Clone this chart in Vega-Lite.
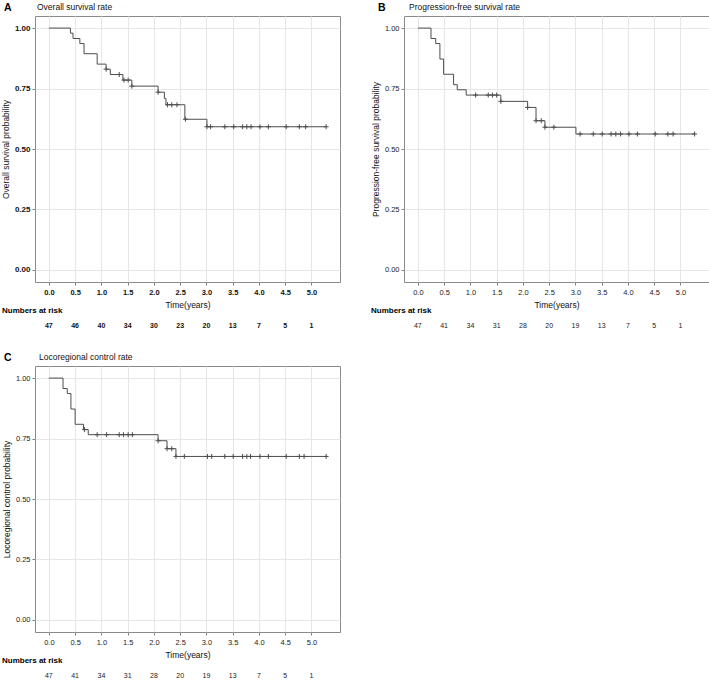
{
  "$schema": "https://vega.github.io/schema/vega-lite/v6.json",
  "padding": {"left": 0, "top": 2, "right": 0, "bottom": 0},
  "background": "white",
  "config": {
    "font": "Liberation Sans",
    "view": {"stroke": "#8a8a8a", "strokeWidth": 1},
    "axis": {
      "domain": false,
      "grid": true,
      "gridColor": "#e6e6e6",
      "gridWidth": 1,
      "tickColor": "#7f7f7f",
      "tickSize": 3,
      "labelFont": "Liberation Sans",
      "labelColor": "#222222",
      "labelFontSize": 7.5,
      "titleFont": "Liberation Sans",
      "titleFontSize": 8.5,
      "titleFontWeight": "normal",
      "titleColor": "#111111"
    },
    "axisX": {"labelPadding": 3, "titlePadding": 5},
    "axisY": {"labelPadding": 2, "titlePadding": 4},
    "title": {"font": "Liberation Sans", "color": "#111111"}
  },
  "datasets": {
    "curves": [
      {"panel": "A", "t": 0, "s": 1},
      {"panel": "A", "t": 0.41, "s": 0.979},
      {"panel": "A", "t": 0.46, "s": 0.957},
      {"panel": "A", "t": 0.59, "s": 0.936},
      {"panel": "A", "t": 0.67, "s": 0.894},
      {"panel": "A", "t": 0.92, "s": 0.851},
      {"panel": "A", "t": 1.09, "s": 0.830},
      {"panel": "A", "t": 1.17, "s": 0.808},
      {"panel": "A", "t": 1.41, "s": 0.785},
      {"panel": "A", "t": 1.58, "s": 0.760},
      {"panel": "A", "t": 2.08, "s": 0.735},
      {"panel": "A", "t": 2.20, "s": 0.709},
      {"panel": "A", "t": 2.23, "s": 0.683},
      {"panel": "A", "t": 2.59, "s": 0.623},
      {"panel": "A", "t": 3.01, "s": 0.592},
      {"panel": "A", "t": 5.28, "s": 0.592},
      {"panel": "B", "t": 0, "s": 1},
      {"panel": "B", "t": 0.25, "s": 0.957},
      {"panel": "B", "t": 0.34, "s": 0.936},
      {"panel": "B", "t": 0.42, "s": 0.872},
      {"panel": "B", "t": 0.49, "s": 0.809},
      {"panel": "B", "t": 0.68, "s": 0.766},
      {"panel": "B", "t": 0.75, "s": 0.745},
      {"panel": "B", "t": 0.92, "s": 0.723},
      {"panel": "B", "t": 1.58, "s": 0.697},
      {"panel": "B", "t": 2.09, "s": 0.672},
      {"panel": "B", "t": 2.25, "s": 0.617},
      {"panel": "B", "t": 2.42, "s": 0.590},
      {"panel": "B", "t": 3.01, "s": 0.562},
      {"panel": "B", "t": 5.27, "s": 0.562},
      {"panel": "C", "t": 0, "s": 1},
      {"panel": "C", "t": 0.27, "s": 0.957},
      {"panel": "C", "t": 0.35, "s": 0.936},
      {"panel": "C", "t": 0.42, "s": 0.872},
      {"panel": "C", "t": 0.50, "s": 0.809},
      {"panel": "C", "t": 0.66, "s": 0.787},
      {"panel": "C", "t": 0.75, "s": 0.766},
      {"panel": "C", "t": 2.08, "s": 0.741},
      {"panel": "C", "t": 2.25, "s": 0.708},
      {"panel": "C", "t": 2.42, "s": 0.676},
      {"panel": "C", "t": 5.28, "s": 0.676}
    ],
    "censors": [
      {"panel": "A", "t": 1.09, "s": 0.830},
      {"panel": "A", "t": 1.34, "s": 0.808},
      {"panel": "A", "t": 1.43, "s": 0.785},
      {"panel": "A", "t": 1.51, "s": 0.785},
      {"panel": "A", "t": 1.58, "s": 0.760},
      {"panel": "A", "t": 2.08, "s": 0.735},
      {"panel": "A", "t": 2.26, "s": 0.683},
      {"panel": "A", "t": 2.34, "s": 0.683},
      {"panel": "A", "t": 2.44, "s": 0.683},
      {"panel": "A", "t": 2.60, "s": 0.623},
      {"panel": "A", "t": 3.01, "s": 0.592},
      {"panel": "A", "t": 3.08, "s": 0.592},
      {"panel": "A", "t": 3.35, "s": 0.592},
      {"panel": "A", "t": 3.52, "s": 0.592},
      {"panel": "A", "t": 3.69, "s": 0.592},
      {"panel": "A", "t": 3.77, "s": 0.592},
      {"panel": "A", "t": 3.85, "s": 0.592},
      {"panel": "A", "t": 4.02, "s": 0.592},
      {"panel": "A", "t": 4.18, "s": 0.592},
      {"panel": "A", "t": 4.52, "s": 0.592},
      {"panel": "A", "t": 4.77, "s": 0.592},
      {"panel": "A", "t": 4.89, "s": 0.592},
      {"panel": "A", "t": 5.28, "s": 0.592},
      {"panel": "B", "t": 1.10, "s": 0.723},
      {"panel": "B", "t": 1.34, "s": 0.723},
      {"panel": "B", "t": 1.42, "s": 0.723},
      {"panel": "B", "t": 1.50, "s": 0.723},
      {"panel": "B", "t": 1.58, "s": 0.697},
      {"panel": "B", "t": 2.09, "s": 0.672},
      {"panel": "B", "t": 2.25, "s": 0.617},
      {"panel": "B", "t": 2.35, "s": 0.617},
      {"panel": "B", "t": 2.42, "s": 0.590},
      {"panel": "B", "t": 2.59, "s": 0.590},
      {"panel": "B", "t": 3.09, "s": 0.562},
      {"panel": "B", "t": 3.34, "s": 0.562},
      {"panel": "B", "t": 3.51, "s": 0.562},
      {"panel": "B", "t": 3.68, "s": 0.562},
      {"panel": "B", "t": 3.77, "s": 0.562},
      {"panel": "B", "t": 3.86, "s": 0.562},
      {"panel": "B", "t": 4.02, "s": 0.562},
      {"panel": "B", "t": 4.18, "s": 0.562},
      {"panel": "B", "t": 4.52, "s": 0.562},
      {"panel": "B", "t": 4.76, "s": 0.562},
      {"panel": "B", "t": 4.86, "s": 0.562},
      {"panel": "B", "t": 5.27, "s": 0.562},
      {"panel": "C", "t": 0.68, "s": 0.787},
      {"panel": "C", "t": 0.92, "s": 0.766},
      {"panel": "C", "t": 1.10, "s": 0.766},
      {"panel": "C", "t": 1.34, "s": 0.766},
      {"panel": "C", "t": 1.42, "s": 0.766},
      {"panel": "C", "t": 1.51, "s": 0.766},
      {"panel": "C", "t": 1.59, "s": 0.766},
      {"panel": "C", "t": 2.08, "s": 0.741},
      {"panel": "C", "t": 2.25, "s": 0.708},
      {"panel": "C", "t": 2.34, "s": 0.708},
      {"panel": "C", "t": 2.42, "s": 0.676},
      {"panel": "C", "t": 2.58, "s": 0.676},
      {"panel": "C", "t": 3.02, "s": 0.676},
      {"panel": "C", "t": 3.10, "s": 0.676},
      {"panel": "C", "t": 3.35, "s": 0.676},
      {"panel": "C", "t": 3.51, "s": 0.676},
      {"panel": "C", "t": 3.69, "s": 0.676},
      {"panel": "C", "t": 3.77, "s": 0.676},
      {"panel": "C", "t": 3.84, "s": 0.676},
      {"panel": "C", "t": 4.02, "s": 0.676},
      {"panel": "C", "t": 4.18, "s": 0.676},
      {"panel": "C", "t": 4.52, "s": 0.676},
      {"panel": "C", "t": 4.77, "s": 0.676},
      {"panel": "C", "t": 4.86, "s": 0.676},
      {"panel": "C", "t": 5.28, "s": 0.676}
    ],
    "risk": [
      {"panel": "A", "t": 0, "n": 47}, {"panel": "A", "t": 0.5, "n": 46}, {"panel": "A", "t": 1, "n": 40},
      {"panel": "A", "t": 1.5, "n": 34}, {"panel": "A", "t": 2, "n": 30}, {"panel": "A", "t": 2.5, "n": 23},
      {"panel": "A", "t": 3, "n": 20}, {"panel": "A", "t": 3.5, "n": 13}, {"panel": "A", "t": 4, "n": 7},
      {"panel": "A", "t": 4.5, "n": 5}, {"panel": "A", "t": 5, "n": 1},
      {"panel": "B", "t": 0, "n": 47}, {"panel": "B", "t": 0.5, "n": 41}, {"panel": "B", "t": 1, "n": 34},
      {"panel": "B", "t": 1.5, "n": 31}, {"panel": "B", "t": 2, "n": 28}, {"panel": "B", "t": 2.5, "n": 20},
      {"panel": "B", "t": 3, "n": 19}, {"panel": "B", "t": 3.5, "n": 13}, {"panel": "B", "t": 4, "n": 7},
      {"panel": "B", "t": 4.5, "n": 5}, {"panel": "B", "t": 5, "n": 1},
      {"panel": "C", "t": 0, "n": 47}, {"panel": "C", "t": 0.5, "n": 41}, {"panel": "C", "t": 1, "n": 34},
      {"panel": "C", "t": 1.5, "n": 31}, {"panel": "C", "t": 2, "n": 28}, {"panel": "C", "t": 2.5, "n": 20},
      {"panel": "C", "t": 3, "n": 19}, {"panel": "C", "t": 3.5, "n": 13}, {"panel": "C", "t": 4, "n": 7},
      {"panel": "C", "t": 4.5, "n": 5}, {"panel": "C", "t": 5, "n": 1}
    ]
  },
  "columns": 2,
  "spacing": {"row": 17, "column": 29},
  "concat": [
    {
      "title": {"text": "A", "anchor": "start", "frame": "bounds", "fontSize": 10.5, "fontWeight": "bold", "offset": -11, "dx": 3, "color": "#000000"},
      "spacing": -3,
      "vconcat": [
        {
          "width": 305, "height": 266,
          "title": {"text": "Overall survival rate", "anchor": "start", "frame": "group", "fontSize": 8.5, "fontWeight": "normal", "offset": 5, "dx": 2},
          "encoding": {
            "x": {"field": "t", "type": "quantitative",
              "scale": {"domain": [-0.264, 5.544], "nice": false, "zero": false},
              "axis": {"title": "Time(years)", "values": [0, 0.5, 1, 1.5, 2, 2.5, 3, 3.5, 4, 4.5, 5], "format": ".1f", "labelFontWeight": "bold", "labelColor": "#111111"}},
            "y": {"field": "s", "type": "quantitative",
              "scale": {"domain": [-0.05, 1.05], "nice": false, "zero": false},
              "axis": {"title": "Overall survival probability", "values": [0, 0.25, 0.5, 0.75, 1], "format": ".2f", "labelFontWeight": "bold", "labelFontSize": 8, "labelColor": "#111111"}}
          },
          "layer": [
            {"data": {"name": "curves"}, "transform": [{"filter": "datum.panel === 'A'"}],
             "mark": {"type": "line", "interpolate": "step-after", "color": "#4d4d4d", "strokeWidth": 1}},
            {"data": {"name": "censors"}, "transform": [{"filter": "datum.panel === 'A'"}],
             "mark": {"type": "point", "shape": "M-1,0L1,0M0,-1L0,1", "filled": false, "stroke": "#4d4d4d", "strokeWidth": 1, "size": 25, "opacity": 1}}
          ]
        },
        {
          "width": 305, "height": 18,
          "view": {"stroke": null},
          "title": {"text": "Numbers at risk", "anchor": "start", "frame": "group", "dx": -33, "fontSize": 8, "fontWeight": "bold", "offset": 2, "color": "#000000"},
          "data": {"name": "risk"},
          "transform": [{"filter": "datum.panel === 'A'"}],
          "mark": {"type": "text", "fontSize": 7, "fontWeight": "bold", "color": "#111111"},
          "encoding": {
            "x": {"field": "t", "type": "quantitative", "scale": {"domain": [-0.264, 5.544], "nice": false, "zero": false}, "axis": null},
            "text": {"field": "n", "type": "quantitative"}
          }
        }
      ]
    },
    {
      "title": {"text": "B", "anchor": "start", "frame": "bounds", "fontSize": 10.5, "fontWeight": "bold", "offset": -11, "dx": 7, "color": "#000000"},
      "spacing": -3,
      "vconcat": [
        {
          "width": 305, "height": 266,
          "title": {"text": "Progression-free survival rate", "anchor": "start", "frame": "group", "fontSize": 8.5, "fontWeight": "normal", "offset": 5, "dx": 5},
          "encoding": {
            "x": {"field": "t", "type": "quantitative",
              "scale": {"domain": [-0.264, 5.544], "nice": false, "zero": false},
              "axis": {"title": "Time(years)", "values": [0, 0.5, 1, 1.5, 2, 2.5, 3, 3.5, 4, 4.5, 5], "format": ".1f"}},
            "y": {"field": "s", "type": "quantitative",
              "scale": {"domain": [-0.05, 1.05], "nice": false, "zero": false},
              "axis": {"title": "Progression-free survival probability", "values": [0, 0.25, 0.5, 0.75, 1], "format": ".2f"}}
          },
          "layer": [
            {"data": {"name": "curves"}, "transform": [{"filter": "datum.panel === 'B'"}],
             "mark": {"type": "line", "interpolate": "step-after", "color": "#4d4d4d", "strokeWidth": 1}},
            {"data": {"name": "censors"}, "transform": [{"filter": "datum.panel === 'B'"}],
             "mark": {"type": "point", "shape": "M-1,0L1,0M0,-1L0,1", "filled": false, "stroke": "#4d4d4d", "strokeWidth": 1, "size": 25, "opacity": 1}}
          ]
        },
        {
          "width": 305, "height": 18,
          "view": {"stroke": null},
          "title": {"text": "Numbers at risk", "anchor": "start", "frame": "group", "dx": -33, "fontSize": 8, "fontWeight": "bold", "offset": 2, "color": "#000000"},
          "data": {"name": "risk"},
          "transform": [{"filter": "datum.panel === 'B'"}],
          "mark": {"type": "text", "fontSize": 7, "color": "#222222"},
          "encoding": {
            "x": {"field": "t", "type": "quantitative", "scale": {"domain": [-0.264, 5.544], "nice": false, "zero": false}, "axis": null},
            "text": {"field": "n", "type": "quantitative"}
          }
        }
      ]
    },
    {
      "title": {"text": "C", "anchor": "start", "frame": "bounds", "fontSize": 10.5, "fontWeight": "bold", "offset": -11, "dx": 2, "color": "#000000"},
      "spacing": -3,
      "vconcat": [
        {
          "width": 305, "height": 266,
          "title": {"text": "Locoregional control rate", "anchor": "start", "frame": "group", "fontSize": 8.5, "fontWeight": "normal", "offset": 5, "dx": 4},
          "encoding": {
            "x": {"field": "t", "type": "quantitative",
              "scale": {"domain": [-0.264, 5.544], "nice": false, "zero": false},
              "axis": {"title": "Time(years)", "values": [0, 0.5, 1, 1.5, 2, 2.5, 3, 3.5, 4, 4.5, 5], "format": ".1f"}},
            "y": {"field": "s", "type": "quantitative",
              "scale": {"domain": [-0.05, 1.05], "nice": false, "zero": false},
              "axis": {"title": "Locoregional control probability", "values": [0, 0.25, 0.5, 0.75, 1], "format": ".2f"}}
          },
          "layer": [
            {"data": {"name": "curves"}, "transform": [{"filter": "datum.panel === 'C'"}],
             "mark": {"type": "line", "interpolate": "step-after", "color": "#4d4d4d", "strokeWidth": 1}},
            {"data": {"name": "censors"}, "transform": [{"filter": "datum.panel === 'C'"}],
             "mark": {"type": "point", "shape": "M-1,0L1,0M0,-1L0,1", "filled": false, "stroke": "#4d4d4d", "strokeWidth": 1, "size": 25, "opacity": 1}}
          ]
        },
        {
          "width": 305, "height": 18,
          "view": {"stroke": null},
          "title": {"text": "Numbers at risk", "anchor": "start", "frame": "group", "dx": -33, "fontSize": 8, "fontWeight": "bold", "offset": 2, "color": "#000000"},
          "data": {"name": "risk"},
          "transform": [{"filter": "datum.panel === 'C'"}],
          "mark": {"type": "text", "fontSize": 7, "color": "#222222"},
          "encoding": {
            "x": {"field": "t", "type": "quantitative", "scale": {"domain": [-0.264, 5.544], "nice": false, "zero": false}, "axis": null},
            "text": {"field": "n", "type": "quantitative"}
          }
        }
      ]
    }
  ]
}
